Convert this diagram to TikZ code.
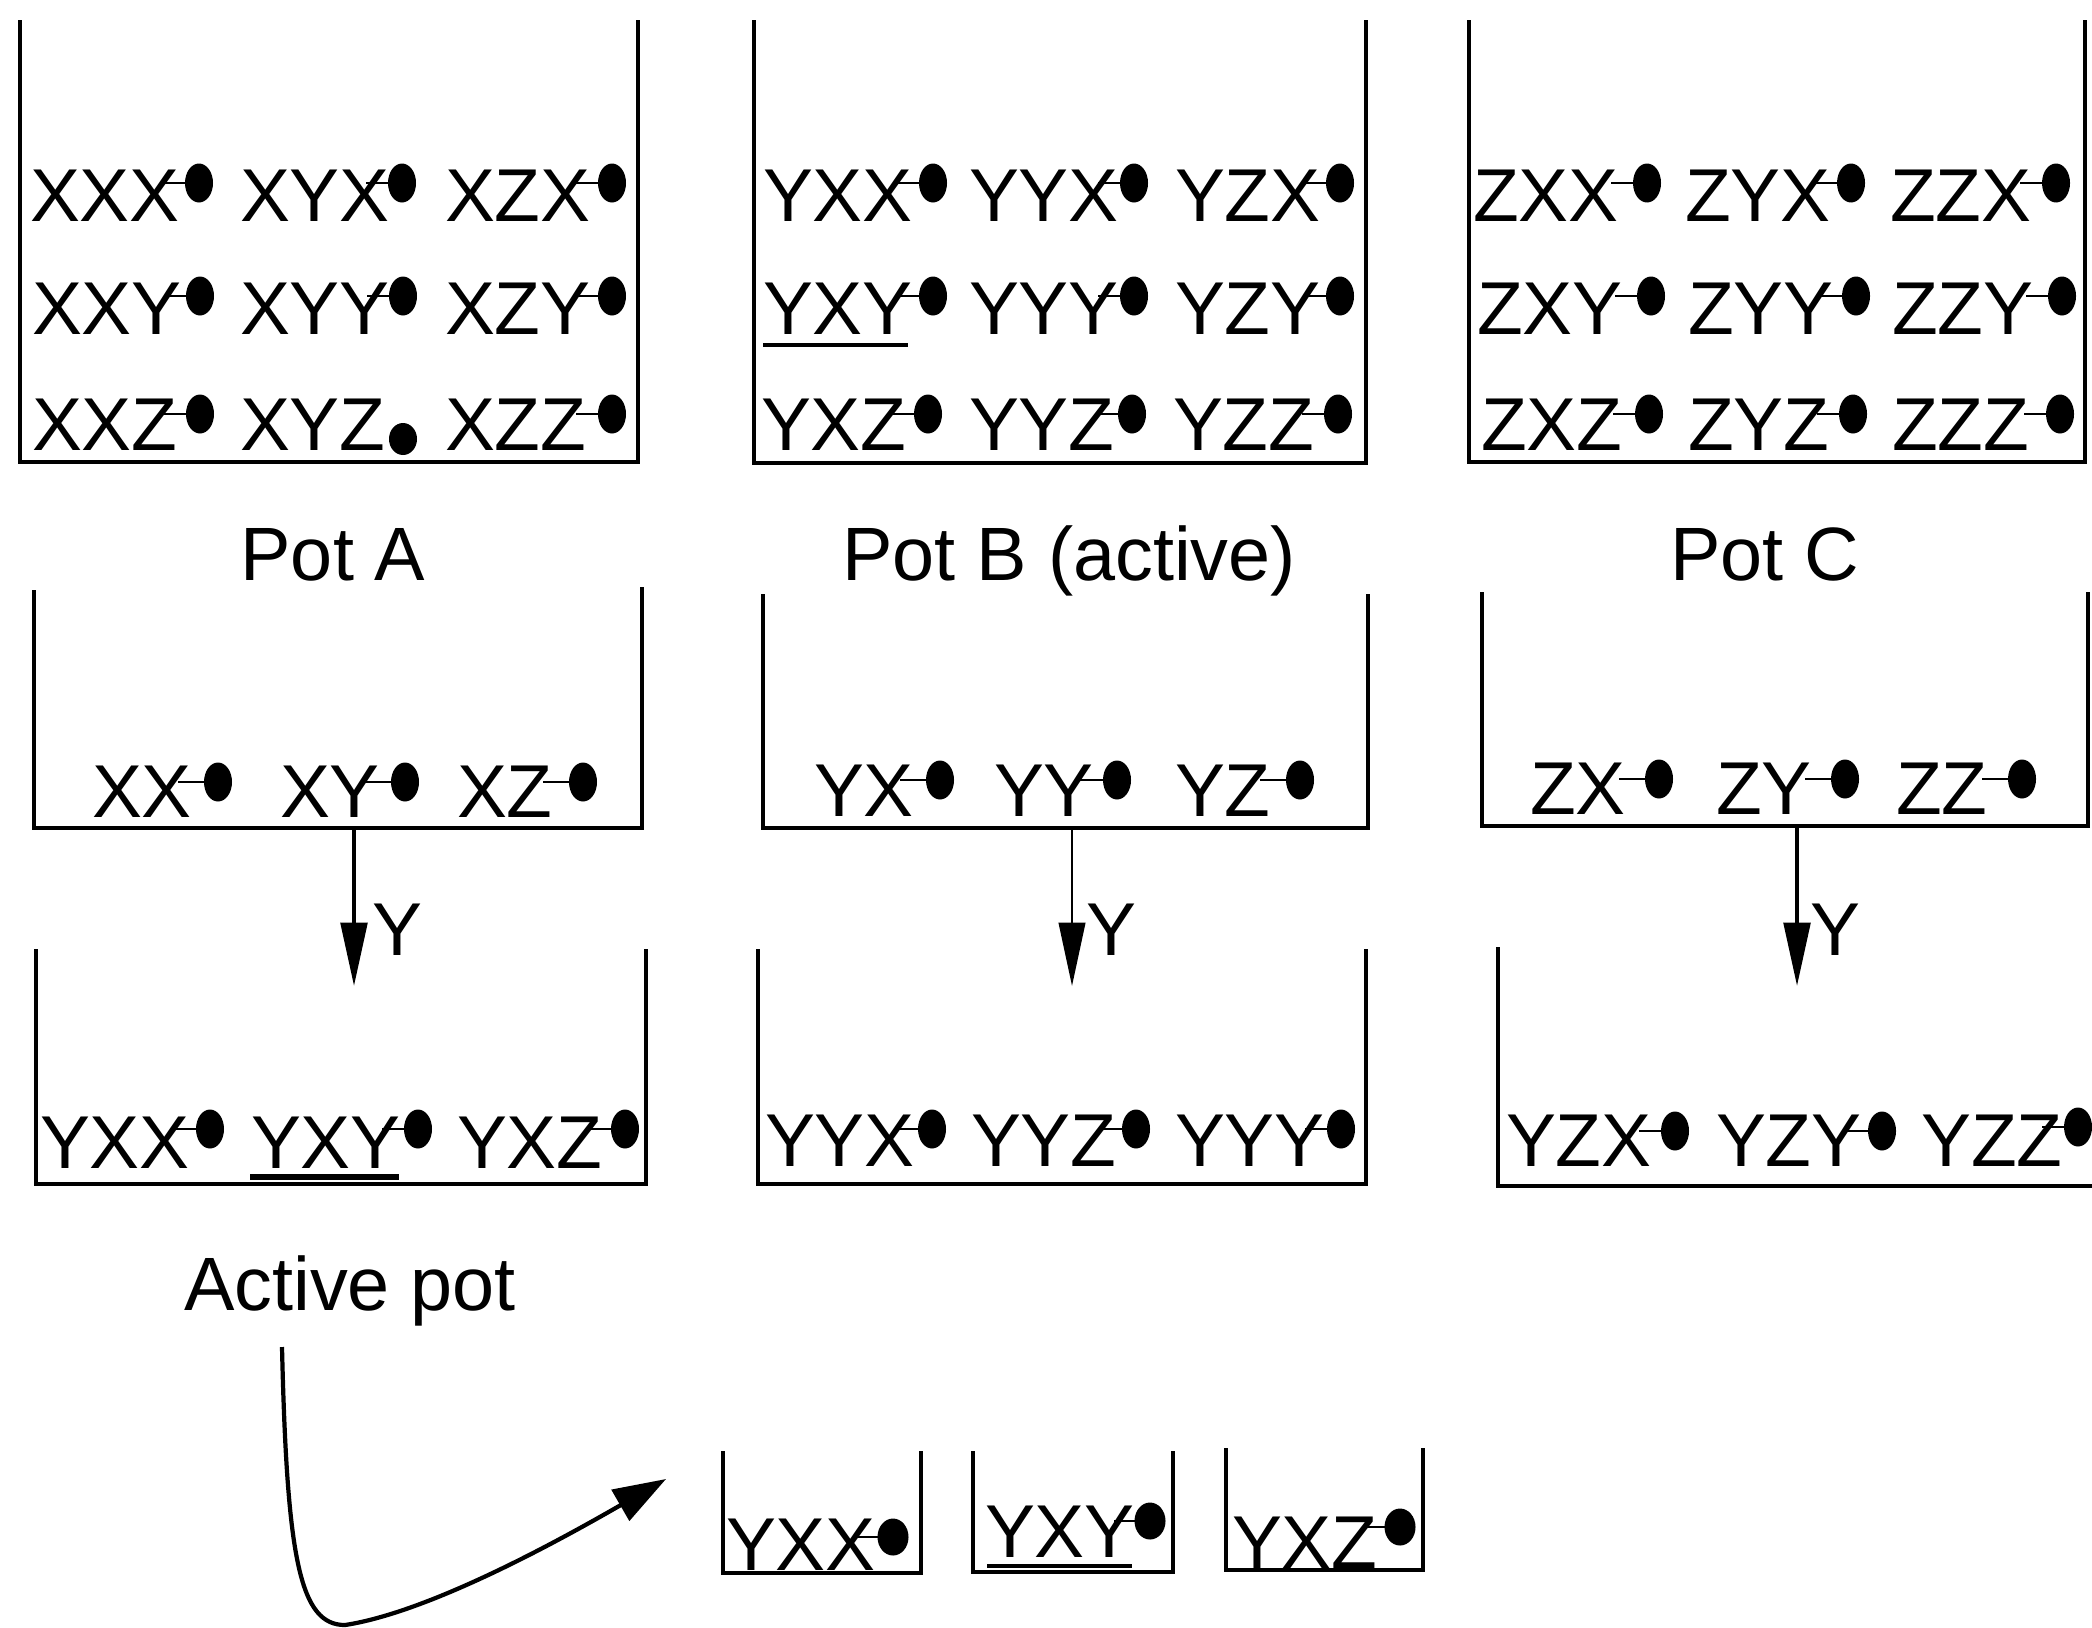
\documentclass[tikz,border=0pt]{standalone}
\usepackage{fontspec}
\setmainfont{Liberation Sans}
\usetikzlibrary{arrows.meta,calc}
\newcommand\mol[7]{%
  \node[#2] (#1) at (#3,#4) {#5};
  \draw[link] (#6-\linelen,#7) -- (#6,#7);
  \fill (#6,#7) ellipse[x radius=\drx, y radius=\dry];
}
\tikzset{
  potwall/.style={line width=1.1pt, line join=miter, line cap=rect},
  big/.style={font=\fontsize{21.3}{25}\selectfont, inner sep=0pt, outer sep=0pt, anchor=base west},
  lab/.style={font=\fontsize{21.5}{26}\selectfont, inner sep=0pt, outer sep=0pt, anchor=base},
  link/.style={line width=0.8pt},
  uline/.style={line width=1.2pt},
  down/.style={line width=1.2pt, -{Triangle[length=18pt, width=7.5pt]}},
}
\begin{document}
\begin{tikzpicture}[x=0.01cm, y=-0.01cm]
\fill[white] (0,0) rectangle (2092,1627);
\useasboundingbox (0,0) rectangle (2092,1627);

% ---------------- top pots ----------------
\draw[potwall] (20,22) -- (20,462) -- (638,462) -- (638,22);
\draw[potwall] (754,22) -- (754,463) -- (1366,463) -- (1366,22);
\draw[potwall] (1469,22) -- (1469,462) -- (2085,462) -- (2085,22);

\def\drx{14}\def\dry{19.5}\def\linelen{36}
% Pot A
\mol{a11}{big}{30}{221}{XXX}{199}{183}
\mol{a12}{big}{240}{221}{XYX}{402}{183}
\mol{a13}{big}{445}{221}{XZX}{612}{183}
\mol{a21}{big}{32}{334}{XXY}{200}{296}
\mol{a22}{big}{240}{334}{XYY}{403}{296}
\mol{a23}{big}{445}{334}{XZY}{612}{296}
\mol{a31}{big}{32}{450}{XXZ}{200}{414}
\node[big] (a32) at (240,450) {XYZ};
\fill (403,439) ellipse[x radius=\drx, y radius=16];
\mol{a33}{big}{445}{450}{XZZ}{612}{414}
% Pot B
\mol{b11}{big}{763}{221}{YXX}{933}{183}
\mol{b12}{big}{969}{221}{YYX}{1134}{183}
\mol{b13}{big}{1175}{221}{YZX}{1340}{183}
\mol{b21}{big}{763}{334}{YXY}{933}{296}
\mol{b22}{big}{969}{334}{YYY}{1134}{296}
\mol{b23}{big}{1175}{334}{YZY}{1340}{296}
\mol{b31}{big}{761}{450}{YXZ}{928}{414}
\mol{b32}{big}{969}{450}{YYZ}{1132}{414}
\mol{b33}{big}{1173}{450}{YZZ}{1338}{414}
\draw[uline] (763,345) -- (908,345);
% Pot C
\mol{c11}{big}{1473}{221}{ZXX}{1647}{183}
\mol{c12}{big}{1685}{221}{ZYX}{1851}{183}
\mol{c13}{big}{1890}{221}{ZZX}{2056}{183}
\mol{c21}{big}{1477}{334}{ZXY}{1651}{296}
\mol{c22}{big}{1688}{334}{ZYY}{1856}{296}
\mol{c23}{big}{1892}{334}{ZZY}{2062}{296}
\mol{c31}{big}{1481}{450}{ZXZ}{1649}{414}
\mol{c32}{big}{1688}{450}{ZYZ}{1853}{414}
\mol{c33}{big}{1892}{450}{ZZZ}{2060}{414}

% labels
\node[lab] (potA) at (333,580) {Pot A};
\node[lab] (potB) at (1069,580) {Pot B (active)};
\node[lab] (potC) at (1765,580) {Pot C};

% ---------------- middle pots ----------------
\draw[potwall] (34,592) -- (34,828) -- (642,828) -- (642,589);
\draw[potwall] (763,596) -- (763,828) -- (1368,828) -- (1368,596);
\draw[potwall] (1482,594) -- (1482,826) -- (2088,826) -- (2088,594);

\def\linelen{40}
\mol{m11}{big}{92}{817}{XX}{218}{782}
\mol{m12}{big}{280}{817}{XY}{405}{782}
\mol{m13}{big}{457}{817}{XZ}{583}{782}
\mol{m21}{big}{814}{816}{YX}{940}{780}
\mol{m22}{big}{994}{816}{YY}{1117}{780}
\mol{m23}{big}{1175}{816}{YZ}{1300}{780}
\mol{m31}{big}{1530}{814}{ZX}{1659}{779}
\mol{m32}{big}{1716}{814}{ZY}{1845}{779}
\mol{m33}{big}{1896}{814}{ZZ}{2022}{779}

% arrows between pots
\coordinate (aS) at (354,828);  \coordinate (aE) at (354,986);
\coordinate (bS) at (1072,828); \coordinate (bE) at (1072,986);
\coordinate (cS) at (1797,826); \coordinate (cE) at (1797,986);
\draw[down] (aS) -- (aE);
\draw[down, line width=0.8pt] (bS) -- (bE);
\draw[down] (cS) -- (cE);
\node[big] (ya) at (372,955) {Y};
\node[big] (yb) at (1086,955) {Y};
\node[big] (yc) at (1810,955) {Y};

% ---------------- bottom pots ----------------
\draw[potwall] (36,951) -- (36,1184) -- (646,1184) -- (646,951);
\draw[potwall] (758,951) -- (758,1184) -- (1366,1184) -- (1366,951);
\draw[potwall] (1498,949) -- (1498,1186) -- (2095,1186);

\def\linelen{36}
\mol{d11}{big}{40}{1168}{YXX}{210}{1129}
\mol{d12}{big}{251}{1168}{YXY}{418}{1129}
\mol{d13}{big}{457}{1168}{YXZ}{625}{1129}
\draw[line width=1.5pt] (250,1177) -- (399,1177);
\mol{d21}{big}{765}{1166}{YYX}{932}{1129}
\mol{d22}{big}{971}{1166}{YYZ}{1136}{1129}
\mol{d23}{big}{1175}{1166}{YYY}{1341}{1129}
\mol{d31}{big}{1506}{1166}{YZX}{1675}{1131}
\mol{d32}{big}{1716}{1166}{YZY}{1882}{1131}
\mol{d33}{big}{1921}{1166}{YZZ}{2078}{1127}

% ---------------- active pot ----------------
\node[lab] (active) at (350,1310) {Active pot};
\coordinate (cs) at (282,1347);
\coordinate (cm) at (345,1625);
\coordinate (ce) at (666,1479);
\draw[line width=1.2pt, -{Triangle[length=15pt, width=10pt]}]
  (cs) .. controls (287,1560) and (300,1625) .. (cm)
       .. controls (430,1612) and (560,1540) .. (ce);

% small pots
\draw[potwall, line width=0.9pt] (723,1453) -- (723,1573) -- (921,1573) -- (921,1453);
\draw[potwall, line width=0.9pt] (973,1453) -- (973,1572) -- (1173,1572) -- (1173,1453);
\draw[potwall, line width=0.9pt] (1226,1450) -- (1226,1570) -- (1423,1570) -- (1423,1450);

\def\drx{15.5}\def\dry{18.5}\def\linelen{36}
\mol{s1}{big}{726}{1570}{YXX}{893}{1537}
\mol{s2}{big}{985}{1557}{YXY}{1150}{1521}
\mol{s3}{big}{1232}{1568}{YXZ}{1400}{1527}
\draw[uline] (987,1566) -- (1132,1566);
\end{tikzpicture}
\end{document}
